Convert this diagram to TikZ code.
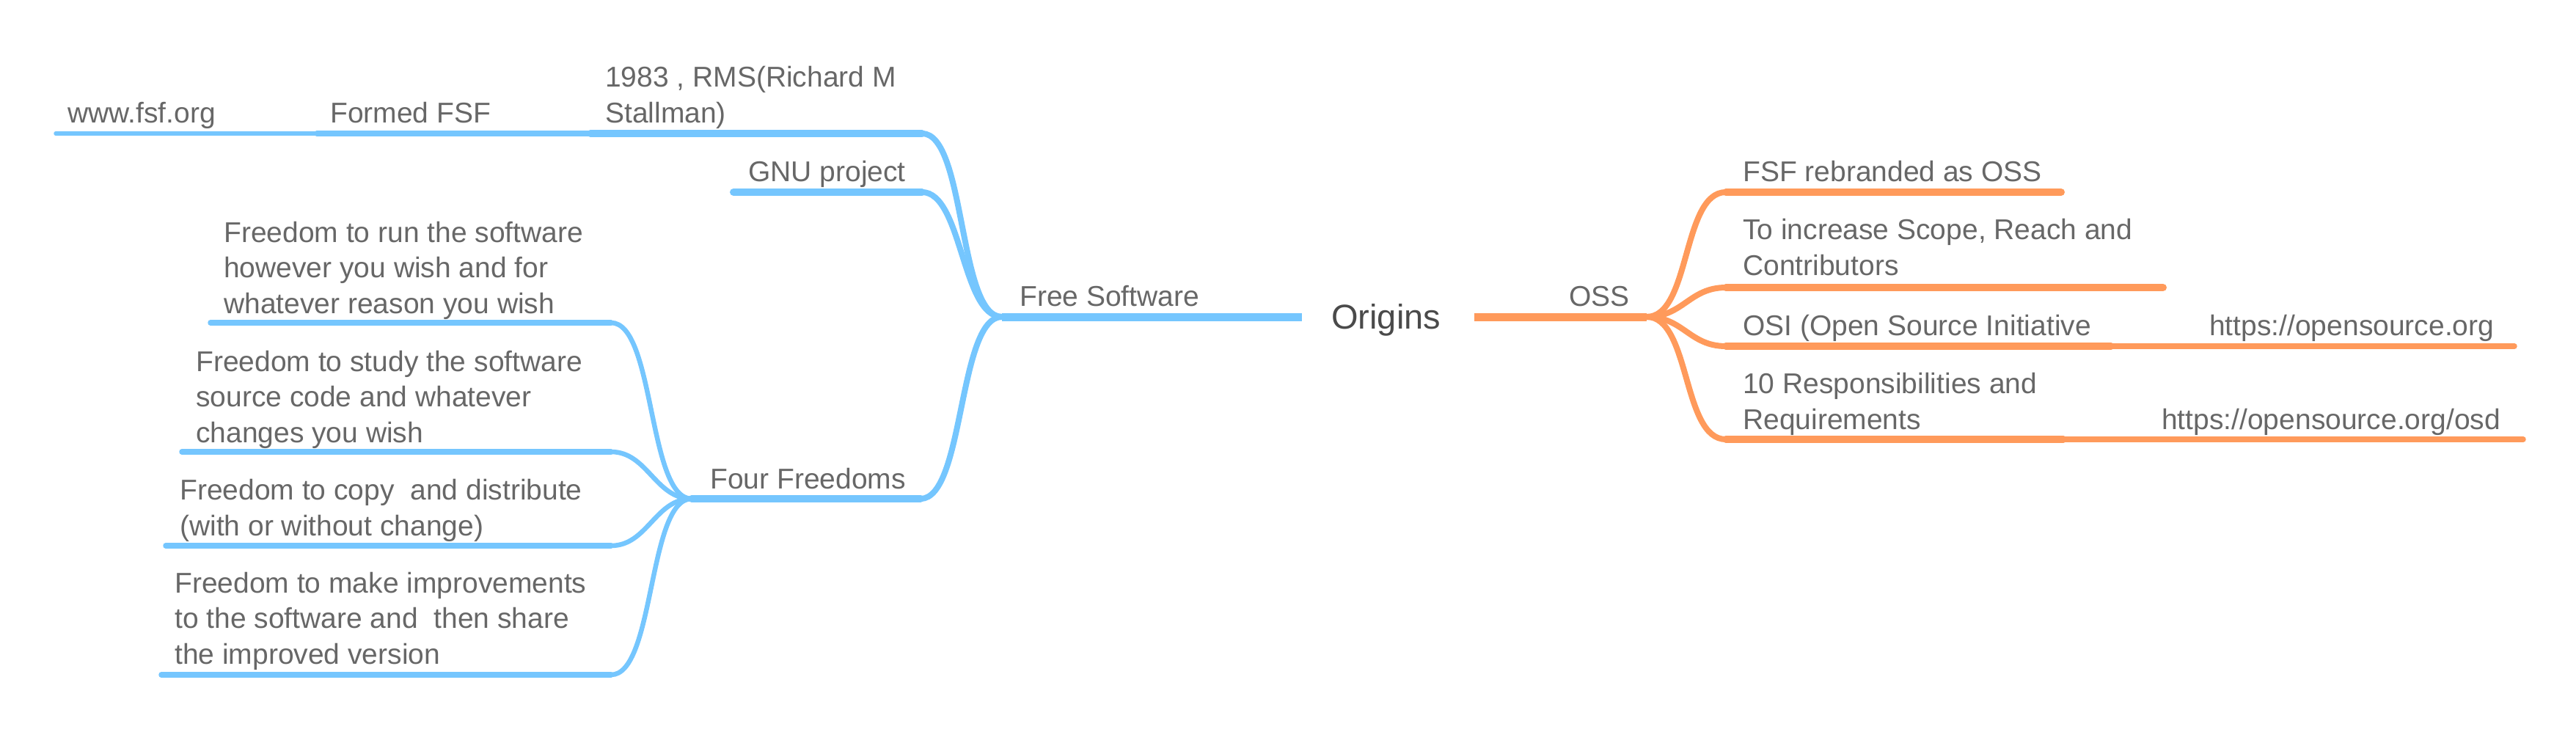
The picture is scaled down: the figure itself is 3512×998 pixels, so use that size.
\documentclass[tikz,border=0pt]{standalone}
\usepackage{fontspec}
\setmainfont{Liberation Sans}
\definecolor{fsblue}{HTML}{75C6FE}
\definecolor{ossorange}{HTML}{FF9A5B}
\definecolor{labelgray}{HTML}{676767}
\definecolor{rootgray}{HTML}{4A4A4A}

\begin{document}
\begin{tikzpicture}[
    x=1pt, y=-1pt,
    topic/.style={anchor=base west, inner sep=0pt, align=left, text=labelgray, font=\fontsize{39}{48.5}\selectfont},
    trunk/.style={line width=11pt},
    mainline/.style={line width=10pt, line cap=round},
    subline/.style={line width=7.5pt, line cap=round},
    urlline/.style={line width=5.5pt, line cap=round},
    limb/.style={line width=8pt, line cap=round},
    twig/.style={line width=6.5pt, line cap=round}
]
    \useasboundingbox (0,0) rectangle (3512,998);

    % Free Software side
    \coordinate (fsJ) at (1366,432);
    \coordinate (fsR) at (1775,432);
    \coordinate (wwwL) at (76,182);
    \coordinate (fsfL) at (432,182);
    \coordinate (rmsL) at (805,182);
    \coordinate (rmsR) at (1257,182);
    \coordinate (gnuL) at (1000,262);
    \coordinate (gnuR) at (1257,262);
    \coordinate (fourJ) at (943,680);
    \coordinate (fourR) at (1255,680);
    \coordinate (runL) at (287,440);
    \coordinate (runR) at (833,440);
    \coordinate (studyL) at (248,616);
    \coordinate (studyR) at (833,616);
    \coordinate (copyL) at (226,744);
    \coordinate (copyR) at (833,744);
    \coordinate (makeL) at (220,920);
    \coordinate (makeR) at (833,920);

    \draw[trunk, fsblue] (fsJ) -- (fsR);
    \draw[urlline, fsblue] (wwwL) -- (fsfL);
    \draw[subline, fsblue] (fsfL) -- (rmsL);
    \draw[mainline, fsblue] (rmsL) -- (rmsR);
    \draw[mainline, fsblue] (gnuL) -- (gnuR);
    \draw[mainline, fsblue] (fourJ) -- (fourR);
    \draw[limb, fsblue] (rmsR) .. controls +(60,0) and +(-60,0) .. (fsJ);
    \draw[limb, fsblue] (gnuR) .. controls +(55,0) and +(-55,0) .. (fsJ);
    \draw[limb, fsblue] (fourR) .. controls +(60,0) and +(-60,0) .. (fsJ);
    \draw[subline, fsblue] (runL) -- (runR);
    \draw[subline, fsblue] (studyL) -- (studyR);
    \draw[subline, fsblue] (copyL) -- (copyR);
    \draw[subline, fsblue] (makeL) -- (makeR);
    \draw[twig, fsblue] (runR) .. controls +(60,0) and +(-60,0) .. (fourJ);
    \draw[twig, fsblue] (studyR) .. controls +(50,0) and +(-50,0) .. (fourJ);
    \draw[twig, fsblue] (copyR) .. controls +(50,0) and +(-50,0) .. (fourJ);
    \draw[twig, fsblue] (makeR) .. controls +(60,0) and +(-60,0) .. (fourJ);

    % OSS side
    \coordinate (ossL) at (2010,432);
    \coordinate (ossJ) at (2245,432);
    \coordinate (rebrandL) at (2353,262);
    \coordinate (rebrandR) at (2810,262);
    \coordinate (scopeL) at (2353,392);
    \coordinate (scopeR) at (2949,392);
    \coordinate (osiL) at (2353,472);
    \coordinate (osiR) at (2878,472);
    \coordinate (osiurlR) at (3428,472);
    \coordinate (respL) at (2353,599);
    \coordinate (respR) at (2813,599);
    \coordinate (respurlR) at (3440,599);

    \draw[trunk, ossorange] (ossL) -- (ossJ);
    \draw[mainline, ossorange] (rebrandL) -- (rebrandR);
    \draw[mainline, ossorange] (scopeL) -- (scopeR);
    \draw[mainline, ossorange] (osiL) -- (osiR);
    \draw[subline, ossorange] (osiR) -- (osiurlR);
    \draw[mainline, ossorange] (respL) -- (respR);
    \draw[subline, ossorange] (respR) -- (respurlR);
    \draw[limb, ossorange] (ossJ) .. controls +(60,0) and +(-60,0) .. (rebrandL);
    \draw[limb, ossorange] (ossJ) .. controls +(50,0) and +(-50,0) .. (scopeL);
    \draw[limb, ossorange] (ossJ) .. controls +(50,0) and +(-50,0) .. (osiL);
    \draw[limb, ossorange] (ossJ) .. controls +(60,0) and +(-60,0) .. (respL);

    % labels (multi-line ones sit on their last line)
    \node[topic, text=rootgray, font=\fontsize{47}{56}\selectfont] (origins) at (1815,448) {Origins};
    \node[topic] (freesw) at (1390,417) {Free Software};
    \node[topic] (rms) at (825,167) {1983 , RMS(Richard M\\Stallman)};
    \node[topic] (fsf) at (450,167) {Formed FSF};
    \node[topic] (www) at (92,167) {www.fsf.org};
    \node[topic] (gnu) at (1020,247) {GNU project};
    \node[topic] (four) at (968,666) {Four Freedoms};
    \node[topic] (run) at (305,427) {Freedom to run the software\\however you wish and for\\whatever reason you wish};
    \node[topic] (study) at (267,603) {Freedom to study the software\\source code and whatever\\changes you wish};
    \node[topic] (copy) at (245,730) {Freedom to copy\ \ and distribute\\(with or without change)};
    \node[topic] (make) at (238,905) {Freedom to make improvements\\to the software and\ \ then share\\the improved version};
    \node[topic] (oss) at (2139,417) {OSS};
    \node[topic] (rebrand) at (2376,247) {FSF rebranded as OSS};
    \node[topic] (scope) at (2376,375) {To increase Scope, Reach and\\Contributors};
    \node[topic] (osi) at (2376,457) {OSI (Open Source Initiative};
    \node[topic] (osiurl) at (3012,457) {https://opensource.org};
    \node[topic] (resp) at (2376,585) {10 Responsibilities and\\Requirements};
    \node[topic] (respurl) at (2947,585) {https://opensource.org/osd};
\end{tikzpicture}
\end{document}
